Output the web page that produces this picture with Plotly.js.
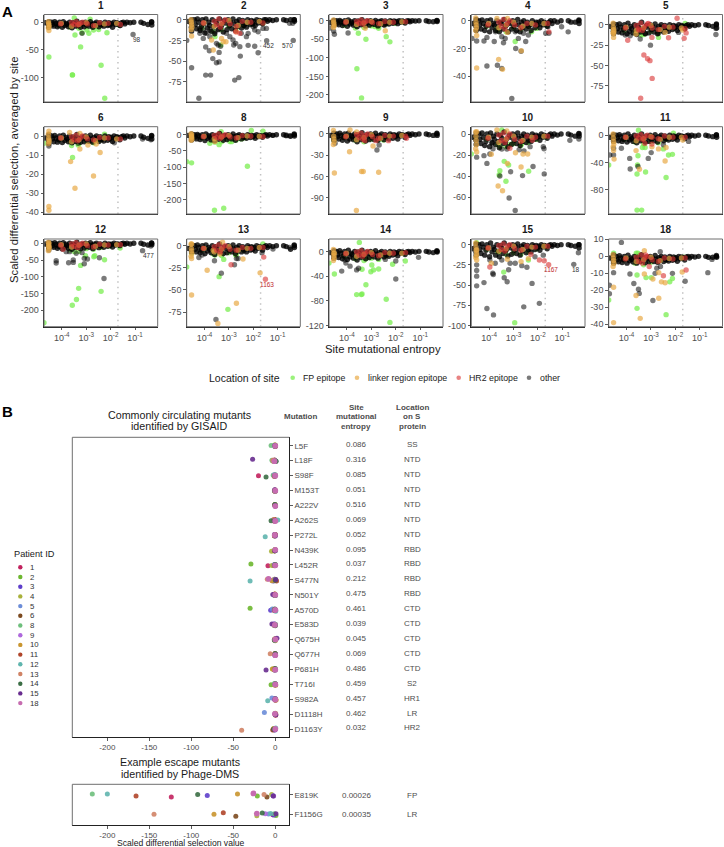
<!DOCTYPE html>
<html><head><meta charset="utf-8">
<script src="https://cdn.plot.ly/plotly-3.0.1.min.js"></script>
<style>html,body{margin:0;padding:0;background:#fff}</style></head>
<body><div id="chart" style="width:724px;height:847px"></div>
<script>
// ---------- Panel A: shared site entropies (log10) ----------
const bandEntropyLog=[-4.68,-4.55,-4.54,-4.53,-4.53,
-4.42,-4.38,-4.33,-4.29,-4.24,-4.18,-4.13,-4.09,-4.03,-3.98,-3.94,-3.88,-3.83,-3.79,-3.73,-3.68,-3.63,-3.58,-3.54,-3.48,-3.43,-3.38,-3.33,-3.29,-3.23,-3.18,-3.13,-3.08,-3.03,-2.98,-2.93,-2.88,-2.83,-2.78,-2.73,-2.68,-2.63,-2.58,-2.53,-2.48,-2.43,-2.38,-2.33,-2.28,-2.23,-2.17,-2.12,-2.07,-2.02,-1.97,-1.92,-1.86,-1.8,-1.74,-1.68,-1.62,
-1.55,-1.48,-1.42,-1.33,-1.2,-1.05,-0.755,-0.645,-0.47,-0.32,-0.32,-0.31];
const hr2SitesLog=[-4.05,-3.6,-3.5,-3.42,-3.35,-3.25,-3.15,-2.95,-2.7,-2.45,-2.1,-1.6];
const linkerSitesLog=[-4.55,-4.54,-4.53,-4.52,-4.55,-4.02,-3.6,-3.3,-3.0,-2.62,-2.25,-1.75];
const fpSitesLog=[-4.1,-3.65,-3.3,-3.0,-2.7,-2.4,-2.05,-1.65];

// scaled differential selection of those shared sites, per patient
const band1=[-1,-3,-6,-9,1,0,-4,-7,1,-2,-8,-5,0,-3,-9,1,-6,-2,-4,-8,0,-5,-10,-1,-3,-7,2,-6,-4,-9,-1,-3,-8,0,-5,-2,-7,1,-4,-9,-2,-6,0,-3,-8,-1,-5,-4,-7,0,-3,-6,-1,-5,-2,-9,0,-4,-1,-3,-6,-1,0,-3,0,-1,0,0,-2,-4,0,1,-5];
const band2=[-2,-4,-9,-14,0,0,-6,-11,1,-3,-13,-8,0,-5,-16,1,-10,-3,-7,-14,0,-8,-17,-2,-5,-12,1,-9,-6,-15,-1,-4,-12,0,-7,-3,-11,1,-5,-13,-2,-8,0,-4,-10,-1,-7,-5,-9,0,-3,-6,-1,-5,-2,-7,0,-4,-1,-2,-5,0,0,-2,0,-1,0,0,-1,0,0,0,-2];
const band3=[-5,-2,-8,-12,1,0,-6,-11,1,-3,-13,-7,0,-4,-15,2,-9,-3,-6,-12,0,-7,-16,-1,-4,-11,3,-9,-6,-14,-1,-4,-12,0,-7,-3,-10,1,-5,-14,-2,-9,0,-4,-11,-1,-7,-5,-9,0,-3,-7,-1,-5,-2,-8,0,-4,-1,-2,-6,-1,0,-3,0,-1,0,0,-2,-3,0,1,-2];
const band4=[-2,-1,-4,-7,1,0,-3,-6,0.5,-2,-7,-4,0,-3,-8,0.5,-5,-2,-3,-7,0,-4,-8,-1,-2,-6,1,-4,-3,-8,-1,-2,-6,0,-4,-2,-7,1,-3,-8,-1,-5,0,-3,-6,-1,-4,-3,-7,0,-2,-5,-1,-3,-1,-5,0,-3,-1,-2,-4,-1,0,-2,0,-1,0,0,-1,-1,0,0.5,-2];
const band5=[-2,-4,-8,-11,1,0,-5,-9,1,-3,-10,-6,0,-4,-11,2,-8,-2,-5,-10,0,-6,-12,-1,-4,-9,3,-7,-5,-11,-1,-3,-10,0,-6,-2,-9,1,-5,-11,-2,-7,0,-3,-9,-1,-6,-4,-8,0,-3,-6,-1,-4,-2,-7,0,-4,-1,-2,-5,-1,0,-2,0,-1,0,0,-1,-2,0,1,-4];
const band6=[-1,-1,-2.5,-4,0.8,0,-1.5,-3,0.3,-1,-3.2,-2,0,-1.2,-3.4,0.5,-2.4,-0.8,-1.6,-3,0,-2,-3.5,-0.5,-1.2,-2.8,0.8,-2.2,-1.5,-3.3,-0.4,-1.2,-3,0,-2,-0.8,-2.8,0.4,-1.6,-3.2,-0.7,-2.3,0,-1.2,-2.9,-0.4,-1.9,-1.4,-2.6,0,-1,-2.2,-0.4,-1.6,-0.7,-2.8,0,-1.3,-0.4,-0.9,-2,-0.3,0,-1,0,-0.4,0,0,-0.6,-1.2,0,0.3,-1.5];
const band8=[-2,-4,-10,-16,2,0,-7,-13,1,-3,-15,-9,0,-5,-18,2,-11,-3,-7,-16,0,-9,-19,-2,-5,-14,4,-11,-7,-17,-2,-5,-15,0,-9,-3,-13,2,-6,-17,-3,-10,0,-5,-13,-2,-8,-6,-11,0,-4,-9,-2,-6,-3,-11,0,-6,-2,-4,-8,-2,0,-4,0,-2,0,0,-3,-5,0,2,-4];
const band9=[-2,-3,-6,-9,1,0,-4,-7,1,-2,-9,-5,0,-3,-10,1,-7,-2,-4,-8,0,-5,-11,-1,-3,-8,2,-6,-4,-10,-1,-3,-8,0,-5,-2,-8,1,-4,-9,-2,-6,0,-3,-8,-1,-5,-3,-7,0,-2,-6,-1,-4,-2,-7,0,-3,-1,-2,-5,-1,0,-2,0,-1,0,0,-1,-2,0,1,-2];
const band10=[-3,-2,-6,-10,1,0,-5,-9,1,-3,-11,-7,0,-4,-12,1,-8,-2,-5,-10,0,-7,-13,-1,-4,-9,2,-8,-5,-12,-1,-3,-10,0,-6,-2,-9,1,-4,-11,-2,-7,0,-3,-8,-1,-6,-4,-7,0,-2,-5,-1,-3,-2,-6,0,-3,-1,-2,-4,-1,0,-2,0,-1,0,0,-1,-2,0,0.5,-2];
const band11=[-3,-2,-6,-9,1,0,-4,-8,1,-2,-9,-6,0,-3,-10,2,-7,-2,-5,-9,0,-6,-11,-1,-3,-8,2,-7,-4,-10,-1,-3,-9,0,-6,-2,-8,1,-4,-10,-2,-6,0,-3,-8,-1,-5,-4,-7,0,-3,-6,-1,-4,-2,-7,0,-3,-1,-2,-5,-1,0,-2,0,-1,0,0,-1,-2,0,1,-3];
const band12=[-2,-5,-9,-15,2,0,-7,-12,2,-3,-15,-9,0,-5,-17,2,-11,-3,-7,-15,0,-9,-18,-2,-5,-13,3,-10,-7,-16,-2,-4,-14,0,-9,-3,-12,2,-6,-16,-3,-10,0,-5,-13,-2,-8,-6,-12,0,-4,-9,-2,-6,-3,-11,0,-5,-2,-3,-7,-1,0,-3,0,-2,0,0,-3,-5,0,1,-4];
const band13=[-3,-2,-5,-7,1,0,-4,-7,1,-2,-8,-5,0,-3,-9,1,-6,-2,-4,-8,0,-5,-10,-1,-3,-7,2,-6,-4,-9,-1,-3,-8,0,-5,-2,-7,1,-4,-9,-2,-6,0,-3,-7,-1,-5,-3,-7,0,-2,-5,-1,-4,-2,-6,0,-3,-1,-2,-5,-1,0,-2,0,-1,0,0,-1,-4,0,1,-2];
const band14=[-2,-3,-6,-11,1,0,-6,-10,1,-3,-12,-7,0,-4,-13,2,-9,-3,-5,-11,0,-7,-14,-1,-4,-10,2,-8,-5,-12,-1,-4,-10,0,-6,-2,-9,1,-5,-11,-2,-7,0,-4,-9,-1,-6,-4,-8,0,-3,-6,-1,-4,-2,-7,0,-3,-1,-2,-5,-1,0,-2,0,-1,0,0,-1,-2,0,1,-1];
const band15=[-5,-3,-9,-13,1,0,-6,-11,1,-3,-13,-7,0,-4,-15,2,-9,-3,-6,-13,0,-8,-15,-1,-4,-11,2,-8,-6,-14,-1,-4,-12,0,-7,-2,-11,1,-5,-13,-2,-8,0,-3,-10,-1,-6,-4,-9,0,-2,-6,-1,-4,-2,-7,0,-3,-1,-2,-5,-1,0,-2,0,-1,0,0,-1,-2,0,0,-4];
const band18=[-1,-1,-2.5,-4,0.8,0,-2,-3.2,0.4,-1,-3.6,-2,0,-1.3,-4,0.6,-2.6,-1,-1.8,-3.4,0,-2.2,-4,-0.5,-1.4,-3,1,-2.4,-1.6,-3.8,-0.4,-1.3,-3.2,0,-2.2,-0.9,-3,0.5,-1.7,-3.5,-0.8,-2.5,0,-1.3,-3,-0.4,-2.1,-1.5,-2.8,0,-1.1,-2.3,-0.4,-1.7,-0.8,-2.9,0,-1.4,-0.4,-1,-2.2,-0.3,0,-1,0,-0.4,0,0,-0.6,-0.5,0,0.5,-0.5];

const hr2Band1=[-3,-1,-4,1,-5,-2,0,-3,-6,-1,-2,-4];
const hr2Band2=[-4,-2,-6,1,-9,-3,0,-5,-8,-2,-3,-4];
const hr2Band3=[-4,-2,-7,2,-9,-3,0,-5,-8,-2,-4,-3];
const hr2Band4=[-3,-1,-4,1,-6,-2,0,-3,-5,-2,-3,-2];
const hr2Band5=[-4,-1,-5,2,-7,-2,1,-4,-6,-2,-3,-5];
const hr2Band6=[-1,-0.5,-2,0.5,-2.5,-1,0,-1.5,-2,-0.8,-1,-1.5];
const hr2Band8=[-6,-2,-9,2,-12,-4,0,-7,-10,-3,-5,-6];
const hr2Band9=[-4,-1,-5,1,-7,-2,0,-4,-6,-2,-3,-3];
const hr2Band10=[-4,-1,-6,1,-8,-3,0,-5,-7,-2,-3,-2];
const hr2Band11=[-3,-1,-4,1,-6,-2,0,-3,-5,-1,-3,-3];
const hr2Band12=[-6,-2,-9,2,-13,-4,0,-7,-11,-3,-5,-4];
const hr2Band13=[-3,-1,-5,1,-7,-2,0,-4,-5,-2,-3,-2];
const hr2Band14=[-4,-1,-6,1,-8,-3,0,-5,-7,-2,-3,-2];
const hr2Band15=[-4,-1,-6,1,-8,-2,0,-5,-7,-2,-3,-2];
const hr2Band18=[-1.5,-0.5,-3,0.8,-4,-1,0,-2,-3,-1,-1.5,-1];

const linkerBand1=[1,-2,-5,-8,-10,-2,-7,-4,-1,-6,-3,-2];
const linkerBand2=[0,-3,-6,-9,-12,-4,-8,-5,-1,-7,-3,-2];
const linkerBand3=[2,-4,-9,-14,-18,-3,-10,-6,-2,-8,-4,-3];
const linkerBand4=[2,-1,-3,-5,-7,-2,-5,-3,-1,-4,-2,-2];
const linkerBand5=[2,-3,-6,-8,-10,-3,-7,-4,-1,-6,-3,-4];
const linkerBand6=[1,-1,-2,-3,-4,-1,-3,-2,-0.5,-2.5,-1,-1.5];
const linkerBand8=[3,-4,-9,-14,-17,-5,-12,-7,-2,-9,-4,-5];
const linkerBand9=[5,-3,-7,-11,-15,-3,-8,-5,-1,-6,-3,-2];
const linkerBand10=[2,-2,-6,-10,-14,-3,-8,-5,-2,-6,-3,-2];
const linkerBand11=[2,-4,-9,-13,-17,-3,-8,-5,-2,-6,-3,-3];
const linkerBand12=[3,-5,-10,-16,-22,-4,-11,-6,-2,-9,-5,-4];
const linkerBand13=[2,-3,-6,-9,-12,-3,-7,-4,-1,-5,-3,-2];
const linkerBand14=[3,-3,-7,-11,-15,-3,-8,-5,-2,-6,-3,-3];
const linkerBand15=[2,-3,-7,-11,-16,-4,-8,-5,-2,-6,-3,-2];
const linkerBand18=[1,-1,-2.5,-4,-6,-1,-3,-2,-0.5,-2.5,-1.2,-1];

const fpBand1=[-6,-9,-11,-5,-8,-4,-3,-5];
const fpBand2=[-10,-14,-12,-8,-10,-7,-5,-3];
const fpBand3=[-12,-20,-18,-14,-16,-9,-7,-4];
const fpBand4=[-4,-7,-8,-5,-6,-4,-3,-3];
const fpBand5=[-7,-10,-12,-8,-9,-5,-4,-2];
const fpBand6=[-2,-3,-4,-2.5,-3.5,-2,-1,-1];
const fpBand8=[-10,-18,-22,-14,-16,-10,-6,-4];
const fpBand9=[-5,-9,-11,-7,-8,-5,-3,-2];
const fpBand10=[-5,-10,-12,-9,-11,-8,-5,-3];
const fpBand11=[-6,-10,-13,-9,-11,-6,-3,-2];
const fpBand12=[-9,-20,-24,-16,-18,-12,-8,-5];
const fpBand13=[-5,-9,-11,-8,-10,-5,-3,-2];
const fpBand14=[-8,-12,-15,-11,-13,-7,-4,-3];
const fpBand15=[-6,-9,-12,-10,-12,-9,-5,-3];
const fpBand18=[-2,-4,-5,-3.5,-3,-2,-1,-0.5];

// ---------- Panel A: individually read points [log10 entropy, selection] ----------
const other1=[[-3.17,-20],[-1.08,-22],[-4.53,-8],[-1.6,-6]];
const fp1=[[-4.53,-62.6],[-3.49,7.8],[-2.84,5.4],[-3.46,-23],[-3.23,-44.5],[-3.57,-95],[-3.56,-95],[-2.39,-77.7],[-2.24,-137],[-2.97,-14],[-3.17,-19],[-2.89,-20],[-2.7,-14],[-2.49,-13],[-2.15,-19]];
const linker1=[[-4.53,-15]];
const hr21=[];
const other2=[[-4.73,-25],[-4.53,-58],[-4.23,-95],[-3.95,-67],[-3.75,-67],[-3.95,-33],[-3.8,-37.5],[-3.66,-47],[-3.51,-52],[-3.4,-51],[-3.4,-39.5],[-3.51,-28.6],[-3.44,-30.6],[-3.34,-32],[-2.76,-73],[-2.59,-70],[-2.53,-44],[-2.83,-24.6],[-2.72,-28.6],[-2.55,-32.6],[-2.8,-30.6],[-2.21,-31],[-1.94,-32],[-1.8,-40],[-1.45,-25.4],[-0.36,-25],[-0.51,-4.4],[-0.38,-4.4],[-1.94,-12.5],[-1.8,-14.5],[-1.6,-10.5],[-1.46,-10.5],[-2.28,-20.5],[-2.49,-16.5],[-2.96,-20.5],[-3.1,-16.5],[-3.78,-20.5],[-4.05,-22.6],[-4.19,-16.5],[-3.91,-16.5],[-3.57,-14.5],[-3.37,-10.5],[-4.19,-10.5],[-4.05,-12.5],[-3.78,-12.5],[-2.21,-16.5],[-2,-8.5]];
const fp2=[[-3.57,-20.5],[-3.33,-30.6],[-2.15,-4.4],[-1.6,-4.4]];
const linker2=[[-4.53,-19.7],[-3.71,-24.6],[-3.3,-22.6],[-3.23,-26.6],[-3.12,-26.6],[-3.64,-36.7],[-2.69,-14.5]];
const hr22=[[-2.72,-14.5],[-2.55,-16.5]];
const other3=[[-3.95,-33],[-4.51,-36.6],[-4.54,-28],[-2.46,-12],[-4.68,-20]];
const fp3=[[-3.59,-129.5],[-3.4,-208],[-3.22,-50],[-2.39,-43],[-2.24,-57],[-3.53,-34],[-2.7,-20.5],[-2.84,-16]];
const linker3=[[-3.25,-20.5],[-2.43,-27]];
const hr23=[];
const other4=[[-3.07,-56],[-4.09,-32.6],[-3.66,-32],[-3.48,-34.3],[-4.51,-14.6],[-4.21,-14.6],[-4.09,-12],[-3.79,-14.9],[-3.41,-15.8],[-2.91,-20],[-2.69,-22],[-2.5,-14.9],[-2.39,-10.3],[-0.76,-8],[-1.03,-4.3],[-1.68,-9],[-1.55,-9],[-4.7,-12.7],[-4.5,-6],[-3.48,-11.5],[-3.34,-12.7],[-2.8,-12.7],[-2.59,-9],[-2.93,-8],[-3.2,-8],[-3.74,-8],[-1.59,-4.3]];
const fp4=[[-2.93,-14.9],[-3.68,-5.5],[-2.26,-8],[-2.05,-5.5]];
const linker4=[[-4.51,-34],[-3.61,-27.8],[-3.45,-35],[-2.68,-21.6],[-4.51,-10.6],[-3.25,-8.4],[-3.68,1.7],[-3.25,1.7]];
const hr24=[[-1.55,-8]];
const other5=[[-3.02,-25],[-3.44,-17.5],[-3.85,-13.5],[-4.05,-12.6],[-0.34,-12],[-0.34,-4.5],[-1.87,-9.4],[-2.69,-10.6],[-3.25,-10.6]];
const fp5=[[-2.69,-15.5],[-3.4,-12.6],[-1.6,1.6]];
const linker5=[[-4.53,-15.5],[-4.53,-10.6],[-3.61,-11.4],[-2.42,-9.4],[-1.7,-6.5]];
const hr25=[[-3.42,-90],[-2.95,-65.7],[-3.29,-37],[-3.14,-41.6],[-3.04,-44],[-1.93,8],[-3.95,-19],[-2.96,-15.5],[-2.28,-16],[-1.64,-16.7],[-1.56,-10],[-3.5,-6.5],[-3.1,1.6]];
const other6=[[-4.53,-5.2],[-3.33,-3.8],[-1.85,-3.5],[-0.69,-1.6],[-0.35,-2]];
const fp6=[[-3.56,-11.2],[-3.6,-5],[-3.33,-4.7],[-4.73,-3.8],[-2.45,-2],[-2.25,0.9]];
const linker6=[[-4.53,-37],[-4.53,-38.9],[-4.53,2.6],[-3.68,1.9],[-3.26,1.4],[-3.46,-27.4],[-2.7,-21],[-3.64,-13.4],[-3.26,-6.8],[-2.93,-4.7],[-2.43,-8.6],[-2.59,-4.2]];
const hr26=[];
const other8=[[-1.19,-2],[-0.65,-1],[-0.5,-3]];
const fp8=[[-3.59,-232.6],[-3.21,-226.4],[-2.24,-97],[-4.53,-86.7],[-4.73,-83],[-2.08,13],[-1.6,11],[-3.32,9],[-3.4,-30.6],[-3.78,-26.5],[-2.89,-21.4],[-2.96,-21],[-2.49,-13],[-3.57,-23]];
const linker8=[[-4.53,-6],[-4.53,0],[-3.57,-21]];
const hr28=[];
const other9=[[-2.77,-22.6],[-2.68,-15.5],[-4.48,-13]];
const fp9=[[-2.5,-8.5],[-4.53,-8]];
const linker9=[[-4.51,-55],[-3.89,-25],[-3.61,-108],[-3.4,-53],[-3.33,-53],[-2.7,-54],[-2.93,-17],[-3.87,5.6],[-3.6,3]];
const hr29=[[-2.3,-9.4],[-1.56,-6],[-2.81,-9.4],[-3.27,-9.4]];
const other10=[[-2.93,-72.9],[-3.18,-60.9],[-3.12,-36],[-3.56,-40],[-2.63,-39.6],[-2.2,-31],[-1.74,-38],[-4.51,-22],[-4.21,-20.6],[-4.09,-28],[-3.97,-19],[-3.48,-14.3],[-2.77,-15],[-2.57,-16],[-2.32,-12],[-1.78,-12],[-1.75,-14],[-0.69,-6],[-0.32,-4.8],[-3.84,-14],[-3.27,-14.3],[-3.88,-9]];
const fp10=[[-3.56,-35],[-3.59,-39],[-3.31,-45],[-3.38,-26],[-3.2,-29.5],[-2.38,-35.5],[-3.48,3.8],[-4.73,-19],[-3.55,-12],[-3.14,-10],[-2.66,-9],[-4.55,-3]];
const linker10=[[-3.63,-49.5],[-3.45,-54],[-3.25,-28],[-2.92,-17.8],[-2.61,-19],[-2.42,-19],[-2.69,-31.4],[-4.51,-17],[-3.91,-19.3],[-3.68,3.8],[-3.27,2.9],[-4.51,2.2]];
const hr210=[[-3.15,-13.6],[-2.23,-6]];
const other11=[[-3.85,-49.5],[-3.53,-46],[-3.87,-34],[-3.11,-34],[-2.99,-25.5],[-4.69,-29],[-4.53,-29],[-4.53,-19],[-4.21,-19],[-2.49,-14],[-1.46,-9]];
const fp11=[[-3.57,-110],[-3.38,-110],[-2.38,-62],[-3.55,-43.6],[-3.53,-30],[-3.57,-57],[-3.22,-54],[-4.73,-43.6],[-3.51,7.3],[-2.08,2.9],[-2.28,-29],[-2.12,-28],[-2.49,-20],[-3.35,-18],[-3.24,-18]];
const linker11=[[-3.47,-50],[-3.61,-22.5],[-2.42,-37.7],[-2.69,-20],[-4.53,-22.5],[-4.51,-35],[-2.96,-17],[-2.38,-18],[-1.7,-7]];
const hr211=[[-3.25,-12],[-2.96,-13]];
const other12=[[-4.23,-52],[-4.23,-59],[-3.72,-58],[-3.53,-50],[-3.53,-57],[-3.17,-28],[-3.08,-45],[-2.95,-47],[-3.08,-61],[-2.27,-105],[-2.46,-43],[-0.69,-22],[-4.53,-20],[-3.82,-25],[-3.68,-25],[-3.41,-30],[-0.35,-8]];
const fp12=[[-3.57,-185],[-3.31,-134.5],[-3.4,-168],[-2.39,-143.4],[-3.23,-66],[-2.25,-49],[-2.65,-37],[-2.69,-40],[-4.73,-237],[-3.03,-37],[-3.48,-25],[-1.61,-14]];
const linker12=[[-4.53,0],[-4.53,-10]];
const hr212=[[-3.95,-18]];
const other13=[[-3.53,-83.4],[-3.31,-31],[-3.59,-17],[-4.23,-13.3],[-2.77,-21.6],[-2.69,-14.4],[-2.62,-14.4],[-4.1,-10.6],[-1.64,-8],[-1.19,-3.8],[-0.51,-2]];
const fp13=[[-3.4,-35],[-3.21,-15.5],[-3.04,-72],[-4.53,-8.7],[-4.73,-24],[-3.57,-10.6],[-2.72,-10.6],[-1.6,2]];
const linker13=[[-4.53,-55.7],[-3.89,-27.7],[-3.45,-88],[-2.69,-65],[-1.72,-30.7],[-4.53,-14.4],[-4.53,2],[-3.26,4],[-2.42,-15],[-3.37,-9.5],[-3.64,-5]];
const hr213=[[-2.91,-21.6],[-1.5,-38],[-1.57,-12.9]];
const other14=[[-4.21,-32],[-4.04,-19],[-3.87,-24],[-4.08,-14],[-2,-44.7],[-1.07,-9.7],[-2.43,-13],[-2,-15.6],[-3.52,-27.4],[-3.6,-30]];
const fp14=[[-3.49,14.5],[-4.51,-36.6],[-3.6,-70],[-3.41,-70],[-4.73,-19],[-3.38,-69],[-3.22,-54],[-2.24,-115],[-2.39,-77.5],[-3.02,-33],[-2.91,-30],[-2.7,-28.5],[-2.98,-22],[-2.13,-21],[-1.61,-15.6],[-3.22,-12],[-3.38,-29]];
const linker14=[[-4.51,-3]];
const hr214=[];
const other15=[[-4.51,-51],[-4.51,-39],[-4.51,-32],[-4.51,-25],[-4.21,-47],[-4.09,-79],[-3.82,-87],[-3.85,-35.5],[-3.38,-41],[-3.26,-46],[-2.58,-77],[-2.24,-48],[-1.94,-72.7],[-0.53,-24.4],[-0.34,-10],[-3.97,-19],[-3.75,-23],[-3.48,-19],[-3.14,-23],[-2.93,-23],[-2.66,-26],[-2.45,-28],[-2.12,-15],[-1.78,-13],[-3.2,-31],[-3.83,-37]];
const fp15=[[-2.95,-96.6],[-3.56,-8.7],[-4.51,2.5],[-3.4,-34],[-2.39,-19]];
const linker15=[[-4.51,-13],[-4.51,-6.6],[-4.51,-19],[-3.91,-23],[-2.69,-21],[-2.39,-17],[-3.25,-18]];
const hr215=[[-3.97,-27.7],[-2.29,-12],[-1.94,-19],[-1.74,-20],[-1.56,-24.8]];
const other18=[[-4.21,8.2],[-4.53,-9.6],[-4.53,-3.5],[-4.7,-17],[-4.7,-22],[-3.86,-10.4],[-3.7,-16],[-3.51,-19.4],[-3.48,-21.8],[-2.92,-26],[-2.62,2.7],[-0.67,-9.6],[-0.5,-1.8],[-1.6,-14.7],[-2.61,-6],[-2.76,-7],[-2.12,-10],[-2.83,-10]];
const fp18=[[-4.73,-25.7],[-3.57,-30.6],[-2.38,-34.3],[-2.23,-15],[-2.12,-13],[-3.2,-12.5],[-2.99,-12.5],[-4.53,1.8],[-3.6,1.8],[-3.53,1.8],[-3.57,-11]];
const linker18=[[-4.53,-18.2],[-4.53,-39],[-3.61,-23],[-3.44,-36.5],[-2.68,-24.7],[-3.27,-10.4],[-2.92,-13.3],[-2.57,-15],[-2.42,-15.5],[-1.72,-9.2],[-3.27,3.3],[-2.68,-9.6]];
const hr218=[[-2.49,-11.4],[-1.56,-8],[-3.07,-6],[-3.22,0.8]];

const panelIds=[1,2,3,4,5,6,8,9,10,11,12,13,14,15,18];
const yRanges=[[-143.9,14],[-99.5,6.3],[-219,16.7],[-58.5,4.5],[-94.6,12.5],[-40.9,4.9],[-244,24.6],[-113,10.3],[-76.2,7],[-115.7,12.6],[-249,12.8],[-91.6,7.6],[-122,20],[-101.6,7],[-41.4,10.2]];
const yTicks=[[0,-50,-100],[0,-25,-50,-75],[0,-50,-100,-150,-200],[0,-20,-40],[0,-25,-50,-75],[0,-10,-20,-30,-40],[0,-50,-100,-150,-200],[0,-30,-60,-90],[0,-20,-40,-60],[0,-40,-80],[0,-50,-100,-150,-200],[0,-25,-50,-75],[0,-40,-80,-120],[0,-25,-50,-75,-100],[10,0,-10,-20,-30,-40]];
const xTickVals=[1e-4,1e-3,1e-2,1e-1];
const xTickText=['10<sup>-4</sup>','10<sup>-3</sup>','10<sup>-2</sup>','10<sup>-1</sup>'];
const entropyCutoff=0.02;
const siteLabels=[[0,'98',-0.91,-31,'other'],[1,'452',-1.36,-31.4,'other'],[1,'570',-0.59,-31,'other'],[10,'477',-0.43,-37,'other'],[11,'1163',-1.44,-43.6,'hr2'],[13,'1167',-1.46,-31,'hr2'],[13,'18',-0.42,-30.6,'other']];

const bands=[band1,band2,band3,band4,band5,band6,band8,band9,band10,band11,band12,band13,band14,band15,band18];
const hr2Bands=[hr2Band1,hr2Band2,hr2Band3,hr2Band4,hr2Band5,hr2Band6,hr2Band8,hr2Band9,hr2Band10,hr2Band11,hr2Band12,hr2Band13,hr2Band14,hr2Band15,hr2Band18];
const linkerBands=[linkerBand1,linkerBand2,linkerBand3,linkerBand4,linkerBand5,linkerBand6,linkerBand8,linkerBand9,linkerBand10,linkerBand11,linkerBand12,linkerBand13,linkerBand14,linkerBand15,linkerBand18];
const fpBands=[fpBand1,fpBand2,fpBand3,fpBand4,fpBand5,fpBand6,fpBand8,fpBand9,fpBand10,fpBand11,fpBand12,fpBand13,fpBand14,fpBand15,fpBand18];
const others=[other1,other2,other3,other4,other5,other6,other8,other9,other10,other11,other12,other13,other14,other15,other18];
const fps=[fp1,fp2,fp3,fp4,fp5,fp6,fp8,fp9,fp10,fp11,fp12,fp13,fp14,fp15,fp18];
const linkers=[linker1,linker2,linker3,linker4,linker5,linker6,linker8,linker9,linker10,linker11,linker12,linker13,linker14,linker15,linker18];
const hr2s=[hr21,hr22,hr23,hr24,hr25,hr26,hr28,hr29,hr210,hr211,hr212,hr213,hr214,hr215,hr218];

const locationNames=['FP epitope','linker region epitope','HR2 epitope','other'];
const locationColors={other:'rgba(0,0,0,0.52)',band:'rgba(0,0,0,0.8)',fp:'rgba(122,238,80,0.75)',linker:'rgba(232,170,70,0.7)',hr2:'rgba(218,55,55,0.62)'};

// ---------- Panel B ----------
const mutations=['L5F','L18F','S98F','M153T','A222V','A262S','P272L','N439K','L452R','S477N','N501Y','A570D','E583D','Q675H','Q677H','P681H','T716I','S982A','D1118H','D1163Y'];
const mutEntropy=['0.086','0.316','0.085','0.051','0.516','0.069','0.052','0.095','0.037','0.212','0.475','0.461','0.039','0.045','0.069','0.486','0.459','0.457','0.462','0.032'];
const mutLocation=['SS','NTD','NTD','NTD','NTD','NTD','NTD','RBD','RBD','RBD','RBD','CTD','CTD','CTD','CTD','CTD','S2','HR1','LR','HR2'];
const escapeMutants=['E819K','F1156G'];
const escapeEntropy=['0.00026','0.00035'];
const escapeLocation=['FP','LR'];
const patientIds=['1','2','3','4','5','6','8','9','10','11','12','13','14','15','18'];
const patientColors=['#C2225E','#6DB72F','#5E3FCB','#A9B13B','#6C8DD8','#7C4A1F','#6EBF7C','#AE68DC','#C9952F','#B0452A','#5FB5AE','#D08366','#3B6E45','#682C8F','#C66CB0'];

const gisaid1=[0,-1,-20,0,-0.5,-1,0,-0.5,-8.7,-1,0,-1,-1,0,0,-0.5,0,0.5,0.5,-1];
const gisaid2=[-1,-3,-1,0,0,-1,-0.5,-1,-29,-1.5,-0.5,-30,-1,-0.5,0,-1,-5,0,0,-1];
const gisaid3=[0,-0.5,-1,-0.5,0,0,-1,0,-2,-2.5,-1.5,-5.5,-1.5,-0.5,-0.5,-1,-0.5,-0.5,0,-0.5];
const gisaid4=[-1,-1.5,-1,0,0,-1,-1,-4.5,-4,-3,-1,-1.5,-1,-1,-0.5,-3.5,-1,0,0,-2];
const gisaid5=[-0.5,-1,-2,0,0,-0.5,0,0,-1,-3,-1,-3.5,-0.5,-1,0,-1,0,-4,-13,-0.5];
const gisaid6=[0,0.5,-0.5,-0.5,-0.5,0,-1,-0.5,0,0.5,-0.5,-1,0,0,-0.5,-0.5,0,0,0.5,-2.5];
const gisaid8=[-5,-4,-2.5,-1,0,-1,-0.5,-0.5,-1,-0.5,0,-0.5,-1,-1,0,-1,-1,0,0,-1];
const gisaid9=[0,0,-1,-0.5,0,-1,-0.5,0,-1,-1.5,-1,0.5,-1.5,0,0,0,0,0,0,0];
const gisaid10=[0,-2,-1,-1,0,-1,-0.5,-0.5,-1,-4,-0.5,-1,-1,0,0,-3,0.5,1,0,-2];
const gisaid11=[0,-1,0,-0.5,0,-1,0,-0.5,-0.5,1.5,-0.5,0,0,-1,0,-1,0,0,0,-3];
const gisaid12=[-0.5,0.5,0,-0.5,0,3,-12,0,-0.5,-30,0,0.5,0,-0.5,0,0,0,-9,0,0.5];
const gisaid13=[0,-3,-1,0,0,-2,-1,0,0,-9.5,-0.5,-1,-1,-1,-6,-1,0,0,0.5,-40];
const gisaid14=[0,1,-11,-0.5,-0.5,-5,-0.5,0,0,0,0,-0.5,0,-1,0,0,0,0,0,-2];
const gisaid15=[-0.5,-27,-0.5,-0.5,0,-0.5,0,-0.5,-0.5,0.5,-3,-0.5,-4,2,0,-11,0,-0.5,0.5,-0.5];
const gisaid18=[0,-1,0,0,0,0,-0.5,0,0,-8,0,0,-0.5,0,0,0,0,0,-0.5,0];

const jitter1=[0.03,0.05,0.02,0.04,-0.03,0.06,-0.02,0.04,0.05,-0.05,0.02,-0.02,0.05,0.03,-0.04,0.05,0.03,0.05,0.08,-0.02];
const jitter2=[-0.02,0.03,-0.03,0.02,0.05,-0.03,0.04,0.06,-0.07,0.06,-0.03,-0.09,0.05,-0.04,0.02,-0.03,0.03,0.02,-0.04,0.05];
const jitter3=[0.04,-0.03,0.04,-0.02,0.02,0.04,-0.05,0.02,0.03,0.08,0.02,0.04,-0.04,0.05,0.05,0.02,-0.02,-0.04,0.03,0.06];
const jitter4=[-0.04,0.02,0.02,0.05,-0.02,-0.05,0.02,0.08,0.03,0.02,-0.04,0.02,0.04,0.05,-0.02,-0.02,0.05,0.03,-0.05,-0.03];
const jitter5=[0.05,-0.02,-0.04,0.03,0.04,0.02,-0.03,-0.02,-0.02,0.04,0.03,-0.04,-0.02,0.03,0.04,0.05,-0.03,-0.08,-0.1,0.02];
const jitter6=[-0.03,0.05,0.03,-0.04,-0.06,-0.03,0.05,0.04,0.02,-0.02,0.03,0.05,0.02,-0.05,-0.06,-0.04,0.04,0.05,0.02,0.05];
const jitter8=[-0.01,-0.02,-0.02,0.03,0.02,0.05,-0.02,-0.04,0.04,-0.04,0.02,-0.03,0.05,0.02,0.03,0.02,-0.05,0.02,0.02,-0.04];
const jitter9=[0.02,0.04,-0.03,-0.05,0.05,-0.02,0.03,0.02,-0.03,0.03,-0.02,0.04,-0.05,-0.03,0.02,0.03,0.02,-0.05,-0.03,0.03];
const jitter10=[-0.05,0.03,0.04,0.02,-0.04,0.03,0.03,-0.03,0.05,0.05,0.04,-0.02,0.03,0.08,0.04,-0.02,0.06,0.06,0.04,-0.02];
const jitter11=[0.03,-0.04,-0.03,0.05,0.02,-0.04,-0.04,0.05,-0.02,0.07,-0.05,0.03,-0.03,0.02,-0.03,0.03,-0.03,0.02,0.05,0.07];
const jitter12=[-0.03,0.02,-0.05,0.04,-0.03,-0.02,0.1,0.03,-0.04,0.08,0.05,0.1,-0.02,0.04,-0.03,0.04,-0.04,0.1,0.03,-0.06];
const jitter13=[0.04,-0.03,0.05,-0.02,0.03,-0.05,0.02,-0.02,0.02,-0.04,-0.03,0.02,0.03,-0.02,-0.05,0.02,0.02,0.05,-0.02,0.08];
const jitter14=[0.02,0.05,0.1,0.02,-0.05,0.04,-0.03,0.03,-0.03,0.02,0.04,-0.04,0.07,0.03,-0.04,-0.05,-0.02,-0.03,0.05,0.02];
const jitter15=[-0.02,-0.09,0.03,-0.03,0.03,0.02,0.05,0.04,0.04,-0.03,-0.02,0.03,-0.05,-0.09,0.04,0.05,0.03,0.04,0.05,0.05];
const jitter18=[0.01,0.04,0.01,0.02,0.05,0.05,-0.01,-0.02,0.02,-0.07,0.01,0.02,0.02,-0.01,0.05,0.02,0.01,0.02,-0.02,0];

const escape1=[-123.8,-3];const escape2=[-21.4,0.8];const escape3=[-81,-2];const escape4=[-4.3,-22];const escape5=[-2.5,-8];
const escape6=[-9.9,-47];const escape8=[-217.9,-1];const escape9=[-2,-11.9];const escape10=[-45,-73];const escape11=[-165.8,-61.9];
const escape12=[-200,-5.5];const escape13=[-13.4,-144.4];const escape14=[-92.4,-15.5];const escape15=[-2.4,0.8];const escape18=[-26,-22];
const escapeJit1=[0.1,0.02];const escapeJit2=[0.05,0.06];const escapeJit3=[0.03,0.03];const escapeJit4=[-0.03,0.07];const escapeJit5=[0.04,-0.02];
const escapeJit6=[0.1,0.1];const escapeJit8=[-0.05,-0.03];const escapeJit9=[0.05,-0.03];const escapeJit10=[-0.05,0];const escapeJit11=[0.05,-0.08];
const escapeJit12=[-0.05,-0.04];const escapeJit13=[-0.03,0];const escapeJit14=[-0.03,-0.07];const escapeJit15=[0.05,-0.03];const escapeJit18=[-0.08,-0.04];

const gisaid=[gisaid1,gisaid2,gisaid3,gisaid4,gisaid5,gisaid6,gisaid8,gisaid9,gisaid10,gisaid11,gisaid12,gisaid13,gisaid14,gisaid15,gisaid18];
const jitters=[jitter1,jitter2,jitter3,jitter4,jitter5,jitter6,jitter8,jitter9,jitter10,jitter11,jitter12,jitter13,jitter14,jitter15,jitter18];
const escapes=[escape1,escape2,escape3,escape4,escape5,escape6,escape8,escape9,escape10,escape11,escape12,escape13,escape14,escape15,escape18];
const escapeJits=[escapeJit1,escapeJit2,escapeJit3,escapeJit4,escapeJit5,escapeJit6,escapeJit8,escapeJit9,escapeJit10,escapeJit11,escapeJit12,escapeJit13,escapeJit14,escapeJit15,escapeJit18];

// ---------- layout helpers (pixel to paper) ----------
const W=724,H=847,FONT='"Liberation Sans", Arial, sans-serif';
const px=x=>x/W, py=y=>1-y/H;
const colX=[[44,157.7],[186.7,300.3],[329,443],[471.3,585],[608.7,722.5]];
const rowY=[[14.5,102],[126.7,214],[239,326.7]];
const traces=[],shapes=[],annotations=[],layout={};
const GREY='#4d4d4d';
function note(text,x,y,size,o={}){annotations.push(Object.assign({text,x:px(x),y:py(y),xref:'paper',yref:'paper',showarrow:false,xanchor:'center',yanchor:'middle',font:{family:FONT,size,color:'#1a1a1a'},borderpad:0,borderwidth:0,align:'center'},o));}
function border(x0,x1,y0,y1){shapes.push({type:'rect',xref:'paper',yref:'paper',x0:px(x0),x1:px(x1),y0:py(y1),y1:py(y0),line:{color:'#6e6e6e',width:1},layer:'above'});}
function axisBase(){return {showgrid:false,zeroline:false,ticks:'outside',ticklen:2.5,tickwidth:0.8,tickcolor:'#333',linecolor:'#222',linewidth:1,tickfont:{family:FONT,size:9,color:GREY},automargin:false};}
const pow10=v=>Math.pow(10,v);

panelIds.forEach((id,i)=>{
  const n=i+1,sfx=n===1?'':String(n),row=Math.floor(i/5),bottom=row===2;
  const [x0,x1]=colX[i%5],[y0,y1]=rowY[row];
  layout['xaxis'+sfx]=Object.assign(axisBase(),{type:'log',domain:[px(x0),px(x1)],range:[-4.73,-0.07],anchor:'y'+sfx,tickmode:'array',tickvals:bottom?xTickVals:[],ticktext:bottom?xTickText:[],ticks:bottom?'outside':'',showticklabels:bottom});
  layout['yaxis'+sfx]=Object.assign(axisBase(),{domain:[py(y1),py(y0)],range:yRanges[i],anchor:'x'+sfx,tickvals:yTicks[i],ticktext:yTicks[i].map(String)});
  border(x0,x1,y0,y1);
  shapes.push({type:'line',xref:'x'+sfx,yref:'y'+sfx+' domain',x0:entropyCutoff,x1:entropyCutoff,y0:0,y1:1,line:{color:'#c2c2c2',width:1.5,dash:'1.5px,4px'},layer:'below'});
  const base={type:'scatter',mode:'markers',xaxis:'x'+sfx,yaxis:'y'+sfx,showlegend:false,hoverinfo:'skip'};
  const add=(xs,ys,color,name)=>traces.push(Object.assign({},base,{name,x:xs.map(pow10),y:ys,marker:{size:5.4,color,line:{width:0}}}));
  const oth=others[i],f=fps[i],l=linkers[i],h=hr2s[i];
  add(f.map(p=>p[0]),f.map(p=>p[1]),locationColors.fp,'FP epitope');
  add(fpSitesLog,fpBands[i],locationColors.fp,'FP epitope');
  add(oth.map(p=>p[0]),oth.map(p=>p[1]),locationColors.other,'other');
  add(bandEntropyLog,bands[i],locationColors.band,'other');
  add(linkerSitesLog.concat(l.map(p=>p[0])),linkerBands[i].concat(l.map(p=>p[1])),locationColors.linker,'linker region epitope');
  add(hr2SitesLog.concat(h.map(p=>p[0])),hr2Bands[i].concat(h.map(p=>p[1])),locationColors.hr2,'HR2 epitope');
  note('<b>'+id+'</b>',(x0+x1)/2,[5.3,117.3,229][row],10);
});
siteLabels.forEach(([i,t,lx,ly,kind])=>{
  const n=i+1,sfx=n===1?'':String(n);
  annotations.push({text:t,x:lx,y:ly,xref:'x'+sfx,yref:'y'+sfx,showarrow:false,font:{family:FONT,size:6.5,color:kind==='hr2'?'#c0282d':'#333'},borderpad:0});
});
note('<b>A</b>',7.5,11,15,{font:{family:FONT,size:15,color:'#000'}});
note('<b>B</b>',7.5,411,15,{font:{family:FONT,size:15,color:'#000'}});
note('Scaled differential selection, averaged by site',14,170,11.3,{textangle:-90});
note('Site mutational entropy',383,349,11.3);

// Location legend
note('Location of site',244.5,377.7,10.5);
const legendMarks=[[292.7,'fp'],[357,'linker'],[458.7,'hr2'],[529,'other']];
const legendText=[303,367.6,469,539.7];
legendMarks.forEach(([x,k],j)=>{
  shapes.push({type:'circle',xref:'paper',yref:'paper',x0:px(x-2.3),x1:px(x+2.3),y0:py(377.7+2.3),y1:py(377.7-2.3),fillcolor:locationColors[k],line:{width:0}});
  note(locationNames[j],legendText[j],377.7,8.8,{xanchor:'left',font:{family:FONT,size:8.8,color:'#222'}});
});

// Panel B axes
const nA=panelIds.length;
function bAxes(k,y0,y1,yrange,labels){
  const sfx=String(k);
  layout['xaxis'+sfx]=Object.assign(axisBase(),{domain:[px(72.3),px(289.3)],range:[-241.7,16.7],anchor:'y'+sfx,tickvals:[-200,-150,-100,-50,0],ticktext:['-200','-150','-100','-50','0'],tickfont:{family:FONT,size:8,color:GREY}});
  layout['yaxis'+sfx]=Object.assign(axisBase(),{domain:[py(y1),py(y0)],range:yrange,anchor:'x'+sfx,side:'right',tickvals:labels.map((_,j)=>j),ticktext:labels,tickfont:{family:FONT,size:8,color:GREY}});
  shapes.push({type:'line',xref:'paper',yref:'paper',x0:px(72.3),x1:px(289.3),y0:py(y0),y1:py(y0),line:{color:'#6e6e6e',width:1}});
  shapes.push({type:'line',xref:'paper',yref:'paper',x0:px(72.3),x1:px(72.3),y0:py(y0),y1:py(y1),line:{color:'#6e6e6e',width:1}});
}
bAxes(nA+1,437.3,737.3,[19.557,-0.564],mutations);
bAxes(nA+2,784.3,825.3,[1.57,-0.554],escapeMutants);
patientIds.forEach((p,i)=>{
  const top=p==='18';
  const mk={size:top?5.8:5,color:patientColors[i],opacity:top?1:0.9,line:{width:0}};
  traces.push({type:'scatter',mode:'markers',name:'Patient '+p,xaxis:'x'+(nA+1),yaxis:'y'+(nA+1),x:gisaid[i],y:gisaid[i].map((_,r)=>r+jitters[i][r]),marker:mk,showlegend:false,hoverinfo:'skip'});
  traces.push({type:'scatter',mode:'markers',name:'Patient '+p,xaxis:'x'+(nA+2),yaxis:'y'+(nA+2),x:escapes[i],y:escapes[i].map((_,r)=>r+escapeJits[i][r]),marker:mk,showlegend:false,hoverinfo:'skip'});
  const ly=567.3+i*9.7;
  shapes.push({type:'circle',xref:'paper',yref:'paper',x0:px(20.3-2.2),x1:px(20.3+2.2),y0:py(ly+2.2),y1:py(ly-2.2),fillcolor:patientColors[i],line:{width:0}});
  note(p,30,ly,7.8,{xanchor:'left',font:{family:FONT,size:7.8,color:'#333'}});
});
note('Patient ID',34.8,554,9.2);
note('Commonly circulating mutants',179,415,10.7);
note('identified by GISAID',179,426,10.7);
note('Example escape mutants',179.5,762,10.7);
note('identified by Phage-DMS',179.5,774,10.7);
note('Scaled differential selection value',180.5,843,8.6);
const hdr={font:{family:FONT,size:8,color:'#4d4d4d'}};
note('<b>Mutation</b>',300,416.7,8,hdr);
['Site','mutational','entropy'].forEach((t,j)=>note('<b>'+t+'</b>',356,407+j*9.9,8,hdr));
['Location','on S','protein'].forEach((t,j)=>note('<b>'+t+'</b>',412,407+j*9.9,8,hdr));
const rowFont={font:{family:FONT,size:8,color:'#4d4d4d'}};
mutations.forEach((m,r)=>{const y=444.7+r*14.91;note(mutEntropy[r],356,y,8,rowFont);note(mutLocation[r],412,y,8,rowFont);});
escapeMutants.forEach((m,r)=>{const y=795+r*19.3;note(escapeEntropy[r],356,y,8,rowFont);note(escapeLocation[r],412,y,8,rowFont);});

Object.assign(layout,{width:W,height:H,margin:{l:0,r:0,t:0,b:0},paper_bgcolor:'#fff',plot_bgcolor:'#fff',showlegend:false,shapes,annotations,font:{family:FONT}});
Plotly.newPlot('chart',traces,layout,{staticPlot:true,displayModeBar:false});
</script></body></html>
